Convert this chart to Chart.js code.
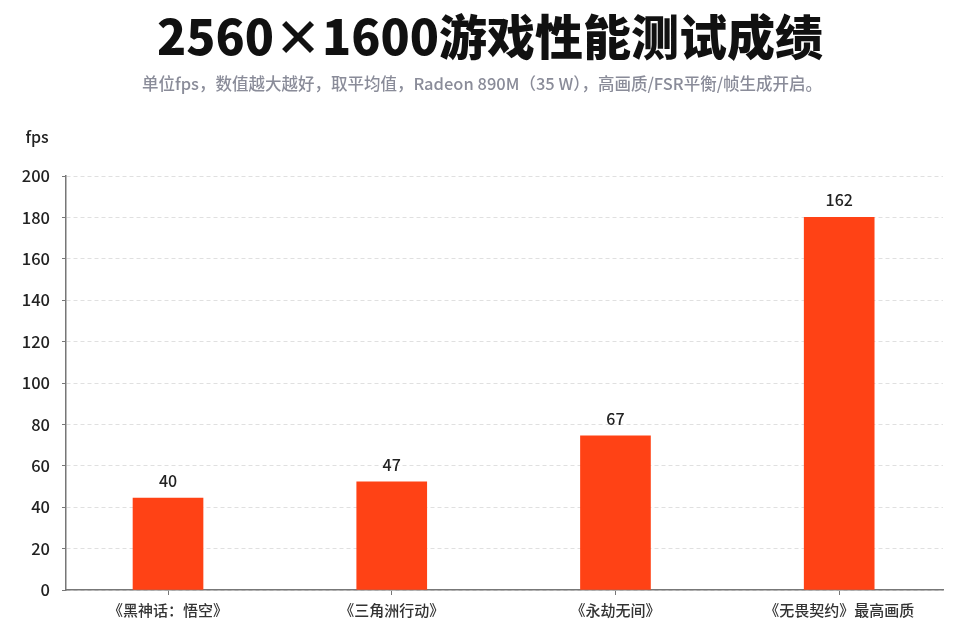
<!DOCTYPE html>
<html>
<head>
<meta charset="utf-8">
<script src="https://cdn.jsdelivr.net/npm/chart.js@4.4.1/dist/chart.umd.min.js"></script>
<style>
  html, body { margin: 0; padding: 0; background: #fff; }
  #wrap { width: 960px; height: 640px; }
</style>
</head>
<body>
<div id="wrap"><canvas id="graph"></canvas></div>
<script>
const titre = '2560×1600游戏性能测试成绩';
const sousTitre = '单位fps，数值越大越好，取平均值，Radeon 890M（35 W），高画质/FSR平衡/帧生成开启。';
const jeux = ['《黑神话：悟空》', '《三角洲行动》', '《永劫无间》', '《无畏契约》最高画质'];
const fps = [40, 47, 67, 162];
// the picture labels its 11 grid lines 0..200, but the bars sit on a 0..180 scale
const etiquettesY = ['0', '20', '40', '60', '80', '100', '120', '140', '160', '180', '200'];
const maxY = 180;

const police = '"Noto Sans CJK SC", "Noto Sans", sans-serif';

// title, subtitle, unit and value labels
const textes = {
  id: 'textes',
  afterDatasetsDraw(chart) {
    const ctx = chart.ctx;
    ctx.save();
    ctx.textAlign = 'center';
    ctx.textBaseline = 'middle';
    ctx.fillStyle = '#111';
    ctx.font = '900 48px ' + police;
    ctx.fillText(titre, 490, 37);
    ctx.fillStyle = '#8a8c99';
    ctx.font = '500 16.5px ' + police;
    ctx.fillText(sousTitre, 482, 84);
    ctx.fillStyle = '#222';
    ctx.font = '500 16px ' + police;
    ctx.fillText('fps', 37, 137);
    const meta = chart.getDatasetMeta(0);
    meta.data.forEach((barre, i) => {
      ctx.fillText(String(fps[i]), barre.x, barre.y - 17);
    });
    ctx.restore();
  }
};

const ctxt = document.getElementById('graph');
new Chart(ctxt, {
  type: 'bar',
  data: {
    datasets: [{
      data: fps.map((v, i) => ({ x: i, y: v })),
      backgroundColor: '#ff4215',
      barThickness: 70
    }]
  },
  options: {
    responsive: true,
    maintainAspectRatio: false,
    animation: false,
    layout: { padding: { top: 176, right: 17, left: 0, bottom: 0 } },
    plugins: {
      legend: { display: false },
      tooltip: { enabled: false }
    },
    scales: {
      x: {
        type: 'linear',
        offset: false,
        min: -0.456,
        max: 3.464,
        afterBuildTicks: (scale) => { scale.ticks = jeux.map((j, i) => ({ value: i })); },
        afterFit: (scale) => { scale.height = 50; },
        grid: { offset: false, drawOnChartArea: false, drawTicks: true, tickLength: 5, color: '#777' },
        border: { color: '#777', width: 1.5 },
        ticks: {
          autoSkip: false,
          maxRotation: 0,
          padding: 6,
          color: '#333',
          font: { family: police, size: 15, weight: 500 },
          callback: (v) => jeux[v]
        }
      },
      y: {
        min: 0,
        max: maxY,
        afterFit: (scale) => { scale.width = 66; },
        ticks: {
          stepSize: maxY / 10,
          padding: 12,
          color: '#222',
          font: { family: police, size: 16.5, weight: 500 },
          callback: (v, idx) => etiquettesY[idx]
        },
        grid: { color: '#e0e0e0', tickColor: '#777', tickLength: 4, lineWidth: 1 },
        border: { color: '#777', width: 1.5, dash: [4, 3] }
      }
    }
  },
  plugins: [textes]
});
</script>
</body>
</html>
